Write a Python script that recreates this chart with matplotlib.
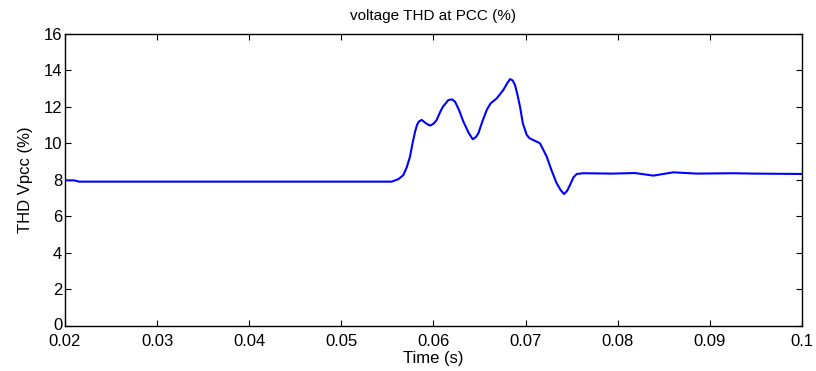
import matplotlib
matplotlib.use("Agg")
import matplotlib.pyplot as plt
import matplotlib.transforms as mtransforms

plt.rcParams['font.family'] = ['Liberation Sans', 'DejaVu Sans']

time_s = [0.0200, 0.0210, 0.0215, 0.0300, 0.0400, 0.0500, 0.0550, 0.05547, 0.0562, 0.05673,
          0.0571, 0.05745, 0.0577, 0.0580, 0.0582, 0.0584, 0.05872, 0.0592, 0.05962, 0.0600, 0.06035,
          0.0607, 0.0610, 0.06161, 0.0620, 0.06234, 0.0628, 0.06324, 0.0638, 0.06426, 0.0646, 0.06487,
          0.0653, 0.06578, 0.0662, 0.06686, 0.06758, 0.0680, 0.06831, 0.0686, 0.06885, 0.0691,
          0.06939, 0.0697, 0.07012, 0.0704, 0.07066, 0.07156, 0.07229, 0.0728, 0.07337, 0.0738,
          0.07417, 0.0745, 0.07482, 0.0752, 0.07555, 0.07627, 0.07935, 0.08188, 0.08387,
          0.08604, 0.08858, 0.09255, 0.0947, 0.1000]
thd_pct = [7.98, 7.98, 7.91, 7.91, 7.91, 7.91, 7.91, 7.91, 8.05, 8.27,
           8.70, 9.28, 9.95, 10.65, 11.00, 11.20, 11.29, 11.10, 10.98, 11.08, 11.29,
           11.70, 12.00, 12.38, 12.42, 12.29, 11.80, 11.20, 10.60, 10.23, 10.35, 10.56,
           11.20, 11.84, 12.20, 12.47, 12.93, 13.30, 13.53, 13.45, 13.20, 12.70,
           12.02, 11.10, 10.47, 10.30, 10.23, 10.01, 9.28, 8.55, 7.82, 7.45,
           7.23, 7.40, 7.73, 8.15, 8.33, 8.37, 8.35, 8.38, 8.24,
           8.42, 8.35, 8.37, 8.35, 8.33]

x_ticks = [0.02, 0.03, 0.04, 0.05, 0.06, 0.07, 0.08, 0.09, 0.1]
x_tick_labels = ["0.02", "0.03", "0.04", "0.05", "0.06", "0.07", "0.08", "0.09", "0.1"]
y_ticks = [0, 2, 4, 6, 8, 10, 12, 14, 16]

fig = plt.figure(figsize=(8.16, 3.71), dpi=100)
ax = fig.add_axes([0.0797, 0.1213, 0.9031, 0.7871])
ax.plot(time_s, thd_pct, color=(0, 0, 1), linewidth=1.5)
ax.set_xlim(0.02, 0.1)
ax.set_ylim(0, 16)
ax.set_xticks(x_ticks)
ax.set_xticklabels(x_tick_labels)
ax.set_yticks(y_ticks)
ax.tick_params(direction='in', top=True, right=True, length=4, width=0.8,
               labelsize=12, pad=2)
ax.tick_params(axis='x', pad=6)
# lift the y-axis "0" slightly so it sits clear of "0.02", as in the reference
ylabels = ax.get_yticklabels()
ylabels[0].set_transform(ylabels[0].get_transform() +
                         mtransforms.ScaledTranslation(0, 2 / 100, fig.dpi_scale_trans))
for s in ax.spines.values():
    s.set_linewidth(1.0)
ax.set_title("voltage THD at PCC (%)", fontsize=11, pad=10)
ax.set_xlabel("Time (s)", fontsize=12, labelpad=1)
ax.set_ylabel("THD Vpcc (%)", fontsize=12, labelpad=8)
fig.savefig("out.png", dpi=100)
